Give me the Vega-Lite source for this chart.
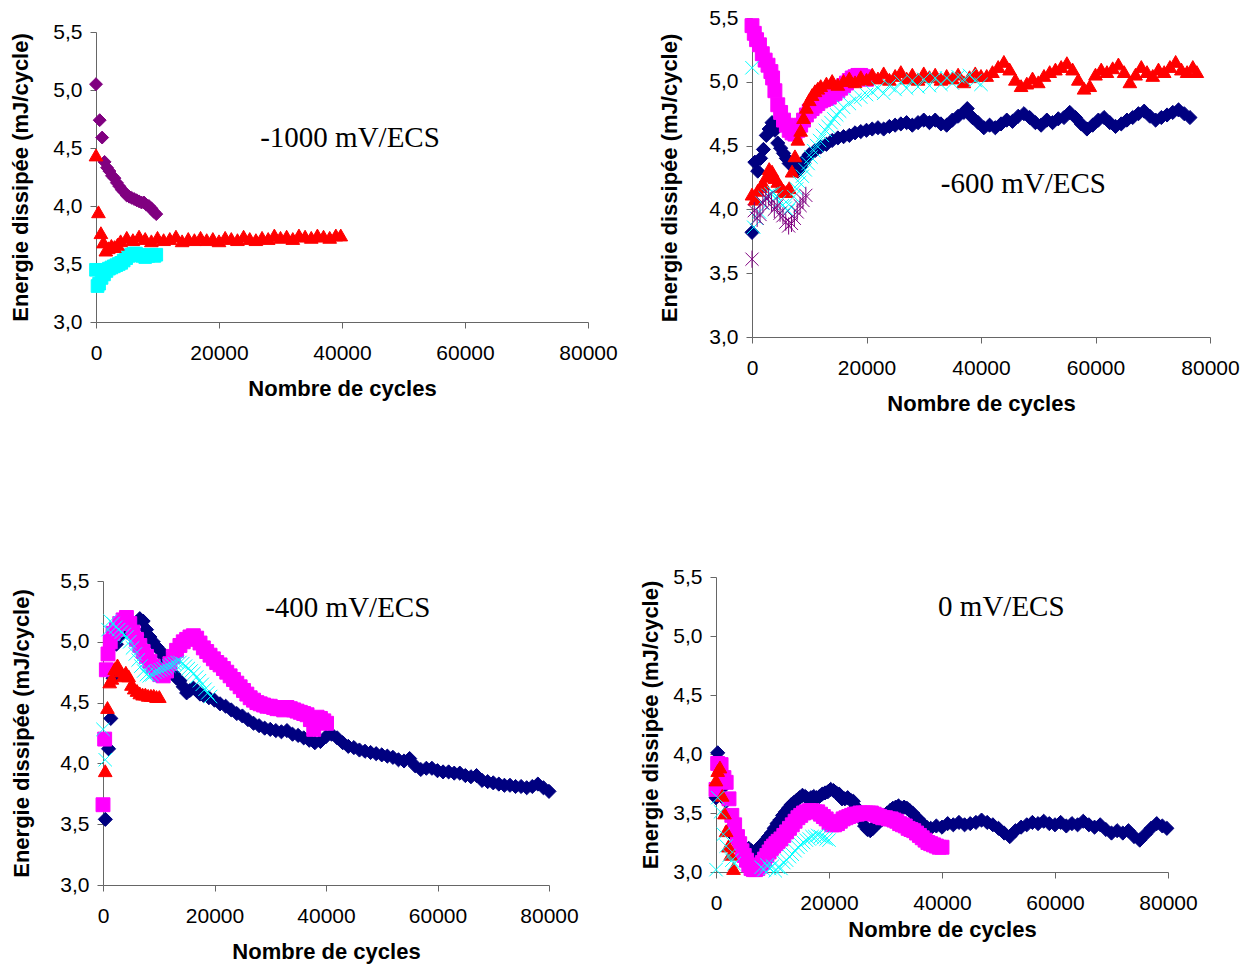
{
  "$schema": "https://vega.github.io/schema/vega-lite/v6.json",
  "background": "white",
  "padding": {"left": 9, "top": 7, "right": 5, "bottom": 5},
  "config": {
    "view": {"stroke": null},
    "axis": {
      "grid": false,
      "labelFont": "Liberation Sans",
      "labelFontSize": 21,
      "labelColor": "black",
      "labelFlush": false,
      "labelOverlap": false,
      "titleFont": "Liberation Sans",
      "titleFontSize": 22,
      "titleFontWeight": "bold",
      "titleColor": "black",
      "domainColor": "#666666",
      "tickColor": "#666666",
      "tickSize": 6
    },
    "axisX": {"labelPadding": 14, "titlePadding": 15},
    "axisY": {"labelPadding": 8, "titlePadding": 20},
    "text": {"font": "Liberation Serif", "fontSize": 29, "align": "center", "baseline": "middle", "color": "black"}
  },
  "datasets": {
    "p1": [
      {"cycles": 0, "energie": 5.05, "serie": "F"}, {"cycles": 600, "energie": 4.74, "serie": "F"}, {"cycles": 1000, "energie": 4.59, "serie": "F"}, {"cycles": 1400, "energie": 4.38, "serie": "F"}, {"cycles": 1800, "energie": 4.33, "serie": "F"}, {"cycles": 2200, "energie": 4.30, "serie": "F"}, {"cycles": 2600, "energie": 4.26, "serie": "F"}, {"cycles": 3000, "energie": 4.24, "serie": "F"}, {"cycles": 3400, "energie": 4.20, "serie": "F"}, {"cycles": 3800, "energie": 4.17, "serie": "F"}, {"cycles": 4200, "energie": 4.14, "serie": "F"}, {"cycles": 4600, "energie": 4.12, "serie": "F"}, {"cycles": 5000, "energie": 4.09, "serie": "F"}, {"cycles": 5400, "energie": 4.08, "serie": "F"}, {"cycles": 5800, "energie": 4.07, "serie": "F"}, {"cycles": 6200, "energie": 4.06, "serie": "F"}, {"cycles": 6600, "energie": 4.05, "serie": "F"}, {"cycles": 7000, "energie": 4.04, "serie": "F"}, {"cycles": 7400, "energie": 4.03, "serie": "F"}, {"cycles": 7800, "energie": 4.03, "serie": "F"}, {"cycles": 8200, "energie": 4.01, "serie": "F"}, {"cycles": 8600, "energie": 4.00, "serie": "F"}, {"cycles": 9000, "energie": 3.98, "serie": "F"}, {"cycles": 9400, "energie": 3.95, "serie": "F"}, {"cycles": 9800, "energie": 3.93, "serie": "F"},
      {"cycles": 0, "energie": 3.45, "serie": "G"}, {"cycles": 250, "energie": 3.31, "serie": "G"}, {"cycles": 500, "energie": 3.33, "serie": "G"}, {"cycles": 900, "energie": 3.38, "serie": "G"}, {"cycles": 1300, "energie": 3.41, "serie": "G"}, {"cycles": 1700, "energie": 3.44, "serie": "G"}, {"cycles": 2100, "energie": 3.46, "serie": "G"}, {"cycles": 2500, "energie": 3.47, "serie": "G"}, {"cycles": 2900, "energie": 3.48, "serie": "G"}, {"cycles": 3300, "energie": 3.49, "serie": "G"}, {"cycles": 3700, "energie": 3.50, "serie": "G"}, {"cycles": 4100, "energie": 3.51, "serie": "G"}, {"cycles": 4500, "energie": 3.53, "serie": "G"}, {"cycles": 4900, "energie": 3.55, "serie": "G"}, {"cycles": 5300, "energie": 3.57, "serie": "G"}, {"cycles": 5700, "energie": 3.58, "serie": "G"}, {"cycles": 6100, "energie": 3.59, "serie": "G"}, {"cycles": 6500, "energie": 3.59, "serie": "G"}, {"cycles": 7000, "energie": 3.58, "serie": "G"}, {"cycles": 7500, "energie": 3.57, "serie": "G"}, {"cycles": 8000, "energie": 3.56, "serie": "G"}, {"cycles": 8500, "energie": 3.57, "serie": "G"}, {"cycles": 9000, "energie": 3.58, "serie": "G"}, {"cycles": 9500, "energie": 3.57, "serie": "G"}, {"cycles": 9800, "energie": 3.58, "serie": "G"},
      {"cycles": 0, "energie": 4.44, "serie": "C"}, {"cycles": 400, "energie": 3.95, "serie": "C"}, {"cycles": 800, "energie": 3.77, "serie": "C"}, {"cycles": 1200, "energie": 3.69, "serie": "C"}, {"cycles": 1600, "energie": 3.62, "serie": "C"}, {"cycles": 2000, "energie": 3.64, "serie": "C"}, {"cycles": 2500, "energie": 3.66, "serie": "C"}, {"cycles": 3000, "energie": 3.65, "serie": "C"}, {"cycles": 3500, "energie": 3.67, "serie": "C"}, {"cycles": 4000, "energie": 3.70, "serie": "C"}, {"cycles": 5000, "energie": 3.73, "serie": "C"}, {"cycles": 6000, "energie": 3.71, "serie": "C"}, {"cycles": 7000, "energie": 3.74, "serie": "C"}, {"cycles": 8000, "energie": 3.72, "serie": "C"}, {"cycles": 9000, "energie": 3.70, "serie": "C"}, {"cycles": 10000, "energie": 3.73, "serie": "C"}, {"cycles": 11000, "energie": 3.71, "serie": "C"}, {"cycles": 12000, "energie": 3.72, "serie": "C"}, {"cycles": 13000, "energie": 3.74, "serie": "C"}, {"cycles": 14000, "energie": 3.70, "serie": "C"}, {"cycles": 15000, "energie": 3.72, "serie": "C"}, {"cycles": 16000, "energie": 3.71, "serie": "C"}, {"cycles": 17000, "energie": 3.73, "serie": "C"}, {"cycles": 18000, "energie": 3.71, "serie": "C"}, {"cycles": 19000, "energie": 3.72, "serie": "C"}, {"cycles": 20000, "energie": 3.70, "serie": "C"}, {"cycles": 21000, "energie": 3.73, "serie": "C"}, {"cycles": 22000, "energie": 3.72, "serie": "C"}, {"cycles": 23000, "energie": 3.71, "serie": "C"}, {"cycles": 24000, "energie": 3.74, "serie": "C"}, {"cycles": 25000, "energie": 3.72, "serie": "C"}, {"cycles": 26000, "energie": 3.71, "serie": "C"}, {"cycles": 27000, "energie": 3.73, "serie": "C"}, {"cycles": 28000, "energie": 3.72, "serie": "C"}, {"cycles": 29000, "energie": 3.75, "serie": "C"}, {"cycles": 30000, "energie": 3.73, "serie": "C"}, {"cycles": 31000, "energie": 3.74, "serie": "C"}, {"cycles": 32000, "energie": 3.72, "serie": "C"}, {"cycles": 33000, "energie": 3.75, "serie": "C"}, {"cycles": 34000, "energie": 3.74, "serie": "C"}, {"cycles": 35000, "energie": 3.73, "serie": "C"}, {"cycles": 36000, "energie": 3.75, "serie": "C"}, {"cycles": 37000, "energie": 3.74, "serie": "C"}, {"cycles": 38000, "energie": 3.73, "serie": "C"}, {"cycles": 39000, "energie": 3.75, "serie": "C"}, {"cycles": 39800, "energie": 3.75, "serie": "C"}
    ],
    "p2": [
      {"cycles": 0, "energie": 3.82, "serie": "A"}, {"cycles": 500, "energie": 4.37, "serie": "A"}, {"cycles": 1000, "energie": 4.30, "serie": "A"}, {"cycles": 1500, "energie": 4.40, "serie": "A"}, {"cycles": 2000, "energie": 4.47, "serie": "A"}, {"cycles": 2500, "energie": 4.58, "serie": "A"}, {"cycles": 3000, "energie": 4.63, "serie": "A"}, {"cycles": 3500, "energie": 4.68, "serie": "A"}, {"cycles": 4000, "energie": 4.62, "serie": "A"}, {"cycles": 4500, "energie": 4.52, "serie": "A"}, {"cycles": 5000, "energie": 4.48, "serie": "A"}, {"cycles": 5500, "energie": 4.44, "serie": "A"}, {"cycles": 6000, "energie": 4.40, "serie": "A"}, {"cycles": 6500, "energie": 4.36, "serie": "A"}, {"cycles": 7000, "energie": 4.35, "serie": "A"}, {"cycles": 7500, "energie": 4.32, "serie": "A"}, {"cycles": 8000, "energie": 4.30, "serie": "A"}, {"cycles": 8500, "energie": 4.33, "serie": "A"}, {"cycles": 9000, "energie": 4.37, "serie": "A"}, {"cycles": 9500, "energie": 4.40, "serie": "A"}, {"cycles": 10000, "energie": 4.43, "serie": "A"}, {"cycles": 11000, "energie": 4.46, "serie": "A"}, {"cycles": 12000, "energie": 4.49, "serie": "A"}, {"cycles": 13000, "energie": 4.51, "serie": "A"}, {"cycles": 14000, "energie": 4.54, "serie": "A"}, {"cycles": 15000, "energie": 4.56, "serie": "A"}, {"cycles": 16000, "energie": 4.57, "serie": "A"}, {"cycles": 17000, "energie": 4.58, "serie": "A"}, {"cycles": 18000, "energie": 4.60, "serie": "A"}, {"cycles": 19000, "energie": 4.61, "serie": "A"}, {"cycles": 20000, "energie": 4.62, "serie": "A"}, {"cycles": 21000, "energie": 4.63, "serie": "A"}, {"cycles": 22000, "energie": 4.64, "serie": "A"}, {"cycles": 23000, "energie": 4.63, "serie": "A"}, {"cycles": 24000, "energie": 4.65, "serie": "A"}, {"cycles": 25000, "energie": 4.66, "serie": "A"}, {"cycles": 26000, "energie": 4.67, "serie": "A"}, {"cycles": 27000, "energie": 4.68, "serie": "A"}, {"cycles": 28000, "energie": 4.66, "serie": "A"}, {"cycles": 29000, "energie": 4.68, "serie": "A"}, {"cycles": 30000, "energie": 4.70, "serie": "A"}, {"cycles": 31000, "energie": 4.68, "serie": "A"}, {"cycles": 32000, "energie": 4.70, "serie": "A"}, {"cycles": 33000, "energie": 4.67, "serie": "A"}, {"cycles": 34000, "energie": 4.66, "serie": "A"}, {"cycles": 35000, "energie": 4.70, "serie": "A"}, {"cycles": 36000, "energie": 4.73, "serie": "A"}, {"cycles": 37000, "energie": 4.76, "serie": "A"}, {"cycles": 37600, "energie": 4.79, "serie": "A"}, {"cycles": 38500, "energie": 4.72, "serie": "A"}, {"cycles": 39500, "energie": 4.68, "serie": "A"}, {"cycles": 40500, "energie": 4.64, "serie": "A"}, {"cycles": 41500, "energie": 4.66, "serie": "A"}, {"cycles": 42500, "energie": 4.64, "serie": "A"}, {"cycles": 43500, "energie": 4.67, "serie": "A"}, {"cycles": 44500, "energie": 4.70, "serie": "A"}, {"cycles": 45500, "energie": 4.69, "serie": "A"}, {"cycles": 46500, "energie": 4.73, "serie": "A"}, {"cycles": 47500, "energie": 4.75, "serie": "A"}, {"cycles": 48500, "energie": 4.72, "serie": "A"}, {"cycles": 49500, "energie": 4.68, "serie": "A"}, {"cycles": 50500, "energie": 4.66, "serie": "A"}, {"cycles": 51500, "energie": 4.70, "serie": "A"}, {"cycles": 52500, "energie": 4.68, "serie": "A"}, {"cycles": 53500, "energie": 4.71, "serie": "A"}, {"cycles": 54500, "energie": 4.72, "serie": "A"}, {"cycles": 55500, "energie": 4.76, "serie": "A"}, {"cycles": 56500, "energie": 4.72, "serie": "A"}, {"cycles": 57500, "energie": 4.67, "serie": "A"}, {"cycles": 58500, "energie": 4.63, "serie": "A"}, {"cycles": 59500, "energie": 4.66, "serie": "A"}, {"cycles": 60500, "energie": 4.70, "serie": "A"}, {"cycles": 61500, "energie": 4.72, "serie": "A"}, {"cycles": 62500, "energie": 4.68, "serie": "A"}, {"cycles": 63500, "energie": 4.65, "serie": "A"}, {"cycles": 64500, "energie": 4.67, "serie": "A"}, {"cycles": 65500, "energie": 4.70, "serie": "A"}, {"cycles": 66500, "energie": 4.72, "serie": "A"}, {"cycles": 67500, "energie": 4.75, "serie": "A"}, {"cycles": 68500, "energie": 4.77, "serie": "A"}, {"cycles": 69500, "energie": 4.73, "serie": "A"}, {"cycles": 70500, "energie": 4.70, "serie": "A"}, {"cycles": 71500, "energie": 4.72, "serie": "A"}, {"cycles": 72500, "energie": 4.74, "serie": "A"}, {"cycles": 73500, "energie": 4.76, "serie": "A"}, {"cycles": 74500, "energie": 4.78, "serie": "A"}, {"cycles": 75500, "energie": 4.75, "serie": "A"}, {"cycles": 76500, "energie": 4.72, "serie": "A"},
      {"cycles": 0, "energie": 5.44, "serie": "B"}, {"cycles": 400, "energie": 5.38, "serie": "B"}, {"cycles": 800, "energie": 5.33, "serie": "B"}, {"cycles": 1300, "energie": 5.29, "serie": "B"}, {"cycles": 1800, "energie": 5.22, "serie": "B"}, {"cycles": 2300, "energie": 5.17, "serie": "B"}, {"cycles": 2800, "energie": 5.13, "serie": "B"}, {"cycles": 3300, "energie": 5.08, "serie": "B"}, {"cycles": 3600, "energie": 5.03, "serie": "B"}, {"cycles": 4000, "energie": 4.93, "serie": "B"}, {"cycles": 4500, "energie": 4.82, "serie": "B"}, {"cycles": 5000, "energie": 4.76, "serie": "B"}, {"cycles": 5500, "energie": 4.70, "serie": "B"}, {"cycles": 6000, "energie": 4.66, "serie": "B"}, {"cycles": 6500, "energie": 4.62, "serie": "B"}, {"cycles": 7000, "energie": 4.60, "serie": "B"}, {"cycles": 7500, "energie": 4.59, "serie": "B"}, {"cycles": 8000, "energie": 4.62, "serie": "B"}, {"cycles": 8500, "energie": 4.66, "serie": "B"}, {"cycles": 9000, "energie": 4.70, "serie": "B"}, {"cycles": 9500, "energie": 4.74, "serie": "B"}, {"cycles": 10000, "energie": 4.77, "serie": "B"}, {"cycles": 10500, "energie": 4.79, "serie": "B"}, {"cycles": 11000, "energie": 4.81, "serie": "B"}, {"cycles": 11500, "energie": 4.83, "serie": "B"}, {"cycles": 12000, "energie": 4.85, "serie": "B"}, {"cycles": 12500, "energie": 4.86, "serie": "B"}, {"cycles": 13000, "energie": 4.87, "serie": "B"}, {"cycles": 13500, "energie": 4.88, "serie": "B"}, {"cycles": 14000, "energie": 4.90, "serie": "B"}, {"cycles": 14500, "energie": 4.91, "serie": "B"}, {"cycles": 15000, "energie": 4.93, "serie": "B"}, {"cycles": 15500, "energie": 4.95, "serie": "B"}, {"cycles": 16000, "energie": 4.97, "serie": "B"}, {"cycles": 16500, "energie": 4.99, "serie": "B"}, {"cycles": 17000, "energie": 5.01, "serie": "B"}, {"cycles": 17500, "energie": 5.03, "serie": "B"}, {"cycles": 18000, "energie": 5.04, "serie": "B"}, {"cycles": 18500, "energie": 5.05, "serie": "B"}, {"cycles": 19000, "energie": 5.05, "serie": "B"}, {"cycles": 19500, "energie": 5.04, "serie": "B"}, {"cycles": 20000, "energie": 5.02, "serie": "B"},
      {"cycles": 0, "energie": 4.12, "serie": "C"}, {"cycles": 500, "energie": 4.08, "serie": "C"}, {"cycles": 1000, "energie": 4.15, "serie": "C"}, {"cycles": 1500, "energie": 4.18, "serie": "C"}, {"cycles": 2000, "energie": 4.20, "serie": "C"}, {"cycles": 2500, "energie": 4.26, "serie": "C"}, {"cycles": 3000, "energie": 4.32, "serie": "C"}, {"cycles": 3500, "energie": 4.30, "serie": "C"}, {"cycles": 4000, "energie": 4.25, "serie": "C"}, {"cycles": 4500, "energie": 4.22, "serie": "C"}, {"cycles": 5000, "energie": 4.18, "serie": "C"}, {"cycles": 5500, "energie": 4.15, "serie": "C"}, {"cycles": 6000, "energie": 4.14, "serie": "C"}, {"cycles": 6500, "energie": 4.17, "serie": "C"}, {"cycles": 7000, "energie": 4.30, "serie": "C"}, {"cycles": 7500, "energie": 4.42, "serie": "C"}, {"cycles": 8000, "energie": 4.55, "serie": "C"}, {"cycles": 8500, "energie": 4.62, "serie": "C"}, {"cycles": 9000, "energie": 4.72, "serie": "C"}, {"cycles": 9500, "energie": 4.80, "serie": "C"}, {"cycles": 10000, "energie": 4.86, "serie": "C"}, {"cycles": 10500, "energie": 4.90, "serie": "C"}, {"cycles": 11000, "energie": 4.93, "serie": "C"}, {"cycles": 11500, "energie": 4.95, "serie": "C"}, {"cycles": 12000, "energie": 4.97, "serie": "C"}, {"cycles": 13000, "energie": 4.99, "serie": "C"}, {"cycles": 14000, "energie": 5.01, "serie": "C"}, {"cycles": 15000, "energie": 4.98, "serie": "C"}, {"cycles": 16000, "energie": 5.01, "serie": "C"}, {"cycles": 17000, "energie": 5.03, "serie": "C"}, {"cycles": 18000, "energie": 5.00, "serie": "C"}, {"cycles": 19000, "energie": 5.04, "serie": "C"}, {"cycles": 20000, "energie": 5.02, "serie": "C"}, {"cycles": 21000, "energie": 5.06, "serie": "C"}, {"cycles": 22000, "energie": 5.03, "serie": "C"}, {"cycles": 23000, "energie": 5.07, "serie": "C"}, {"cycles": 24000, "energie": 5.02, "serie": "C"}, {"cycles": 25000, "energie": 5.05, "serie": "C"}, {"cycles": 26000, "energie": 5.08, "serie": "C"}, {"cycles": 27000, "energie": 5.03, "serie": "C"}, {"cycles": 28000, "energie": 5.06, "serie": "C"}, {"cycles": 29000, "energie": 5.02, "serie": "C"}, {"cycles": 30000, "energie": 5.07, "serie": "C"}, {"cycles": 31000, "energie": 5.04, "serie": "C"}, {"cycles": 32000, "energie": 5.06, "serie": "C"}, {"cycles": 33000, "energie": 5.02, "serie": "C"}, {"cycles": 34000, "energie": 5.05, "serie": "C"}, {"cycles": 35000, "energie": 5.03, "serie": "C"}, {"cycles": 36000, "energie": 5.06, "serie": "C"}, {"cycles": 37000, "energie": 5.00, "serie": "C"}, {"cycles": 38000, "energie": 5.04, "serie": "C"}, {"cycles": 39000, "energie": 5.07, "serie": "C"}, {"cycles": 40000, "energie": 5.05, "serie": "C"}, {"cycles": 41000, "energie": 5.05, "serie": "C"}, {"cycles": 42000, "energie": 5.08, "serie": "C"}, {"cycles": 43000, "energie": 5.12, "serie": "C"}, {"cycles": 44000, "energie": 5.16, "serie": "C"}, {"cycles": 45000, "energie": 5.10, "serie": "C"}, {"cycles": 46000, "energie": 5.02, "serie": "C"}, {"cycles": 47000, "energie": 4.97, "serie": "C"}, {"cycles": 48000, "energie": 4.99, "serie": "C"}, {"cycles": 49000, "energie": 5.03, "serie": "C"}, {"cycles": 50000, "energie": 5.00, "serie": "C"}, {"cycles": 51000, "energie": 5.05, "serie": "C"}, {"cycles": 52000, "energie": 5.08, "serie": "C"}, {"cycles": 53000, "energie": 5.10, "serie": "C"}, {"cycles": 54000, "energie": 5.12, "serie": "C"}, {"cycles": 55000, "energie": 5.15, "serie": "C"}, {"cycles": 56000, "energie": 5.10, "serie": "C"}, {"cycles": 57000, "energie": 5.02, "serie": "C"}, {"cycles": 58000, "energie": 4.95, "serie": "C"}, {"cycles": 59000, "energie": 4.97, "serie": "C"}, {"cycles": 60000, "energie": 5.06, "serie": "C"}, {"cycles": 61000, "energie": 5.10, "serie": "C"}, {"cycles": 62000, "energie": 5.08, "serie": "C"}, {"cycles": 63000, "energie": 5.11, "serie": "C"}, {"cycles": 64000, "energie": 5.14, "serie": "C"}, {"cycles": 65000, "energie": 5.08, "serie": "C"}, {"cycles": 66000, "energie": 5.00, "serie": "C"}, {"cycles": 67000, "energie": 5.06, "serie": "C"}, {"cycles": 68000, "energie": 5.12, "serie": "C"}, {"cycles": 69000, "energie": 5.08, "serie": "C"}, {"cycles": 70000, "energie": 5.05, "serie": "C"}, {"cycles": 71000, "energie": 5.10, "serie": "C"}, {"cycles": 72000, "energie": 5.08, "serie": "C"}, {"cycles": 73000, "energie": 5.12, "serie": "C"}, {"cycles": 74000, "energie": 5.16, "serie": "C"}, {"cycles": 75000, "energie": 5.10, "serie": "C"}, {"cycles": 76000, "energie": 5.08, "serie": "C"}, {"cycles": 77000, "energie": 5.12, "serie": "C"}, {"cycles": 77700, "energie": 5.08, "serie": "C"},
      {"cycles": 0, "energie": 5.11, "serie": "D"}, {"cycles": 300, "energie": 3.86, "serie": "D"}, {"cycles": 800, "energie": 3.93, "serie": "D"}, {"cycles": 1300, "energie": 3.98, "serie": "D"}, {"cycles": 1800, "energie": 4.05, "serie": "D"}, {"cycles": 2300, "energie": 4.09, "serie": "D"}, {"cycles": 2800, "energie": 4.11, "serie": "D"}, {"cycles": 3300, "energie": 4.12, "serie": "D"}, {"cycles": 3800, "energie": 4.13, "serie": "D"}, {"cycles": 4300, "energie": 4.10, "serie": "D"}, {"cycles": 4800, "energie": 4.06, "serie": "D"}, {"cycles": 5300, "energie": 4.03, "serie": "D"}, {"cycles": 5800, "energie": 4.01, "serie": "D"}, {"cycles": 6300, "energie": 3.99, "serie": "D"}, {"cycles": 6800, "energie": 4.02, "serie": "D"}, {"cycles": 7300, "energie": 4.10, "serie": "D"}, {"cycles": 7800, "energie": 4.16, "serie": "D"}, {"cycles": 8300, "energie": 4.21, "serie": "D"}, {"cycles": 8800, "energie": 4.26, "serie": "D"}, {"cycles": 9300, "energie": 4.31, "serie": "D"}, {"cycles": 9800, "energie": 4.36, "serie": "D"}, {"cycles": 10300, "energie": 4.41, "serie": "D"}, {"cycles": 10800, "energie": 4.46, "serie": "D"}, {"cycles": 11300, "energie": 4.50, "serie": "D"}, {"cycles": 11800, "energie": 4.54, "serie": "D"}, {"cycles": 12300, "energie": 4.58, "serie": "D"}, {"cycles": 12800, "energie": 4.62, "serie": "D"}, {"cycles": 13300, "energie": 4.65, "serie": "D"}, {"cycles": 13800, "energie": 4.68, "serie": "D"}, {"cycles": 14300, "energie": 4.71, "serie": "D"}, {"cycles": 14800, "energie": 4.74, "serie": "D"}, {"cycles": 15300, "energie": 4.77, "serie": "D"}, {"cycles": 16000, "energie": 4.80, "serie": "D"}, {"cycles": 17000, "energie": 4.83, "serie": "D"}, {"cycles": 18000, "energie": 4.86, "serie": "D"}, {"cycles": 19000, "energie": 4.88, "serie": "D"}, {"cycles": 20000, "energie": 4.90, "serie": "D"}, {"cycles": 21000, "energie": 4.92, "serie": "D"}, {"cycles": 22000, "energie": 4.95, "serie": "D"}, {"cycles": 23000, "energie": 4.91, "serie": "D"}, {"cycles": 24000, "energie": 4.97, "serie": "D"}, {"cycles": 25000, "energie": 4.94, "serie": "D"}, {"cycles": 26000, "energie": 5.00, "serie": "D"}, {"cycles": 27000, "energie": 4.95, "serie": "D"}, {"cycles": 28000, "energie": 5.01, "serie": "D"}, {"cycles": 29000, "energie": 4.96, "serie": "D"}, {"cycles": 30000, "energie": 5.02, "serie": "D"}, {"cycles": 31000, "energie": 4.97, "serie": "D"}, {"cycles": 32000, "energie": 5.03, "serie": "D"}, {"cycles": 33000, "energie": 4.98, "serie": "D"}, {"cycles": 34000, "energie": 5.03, "serie": "D"}, {"cycles": 35000, "energie": 4.99, "serie": "D"}, {"cycles": 36000, "energie": 5.04, "serie": "D"}, {"cycles": 37000, "energie": 5.02, "serie": "D"}, {"cycles": 38000, "energie": 5.05, "serie": "D"}, {"cycles": 39000, "energie": 5.01, "serie": "D"}, {"cycles": 40000, "energie": 4.98, "serie": "D"},
      {"cycles": 0, "energie": 3.61, "serie": "E"}, {"cycles": 400, "energie": 3.99, "serie": "E"}, {"cycles": 900, "energie": 3.93, "serie": "E"}, {"cycles": 1400, "energie": 3.96, "serie": "E"}, {"cycles": 1900, "energie": 4.05, "serie": "E"}, {"cycles": 2400, "energie": 4.09, "serie": "E"}, {"cycles": 2900, "energie": 4.10, "serie": "E"}, {"cycles": 3400, "energie": 4.05, "serie": "E"}, {"cycles": 3900, "energie": 4.00, "serie": "E"}, {"cycles": 4400, "energie": 4.03, "serie": "E"}, {"cycles": 4900, "energie": 3.97, "serie": "E"}, {"cycles": 5400, "energie": 3.95, "serie": "E"}, {"cycles": 5900, "energie": 3.90, "serie": "E"}, {"cycles": 6400, "energie": 3.87, "serie": "E"}, {"cycles": 6900, "energie": 3.89, "serie": "E"}, {"cycles": 7400, "energie": 3.93, "serie": "E"}, {"cycles": 7900, "energie": 3.98, "serie": "E"}, {"cycles": 8400, "energie": 4.03, "serie": "E"}, {"cycles": 8900, "energie": 4.07, "serie": "E"}, {"cycles": 9400, "energie": 4.11, "serie": "E"}
    ],
    "p3": [
      {"cycles": 420, "energie": 3.54, "serie": "A"}, {"cycles": 1000, "energie": 4.12, "serie": "A"}, {"cycles": 1400, "energie": 4.37, "serie": "A"}, {"cycles": 1800, "energie": 4.70, "serie": "A"}, {"cycles": 2400, "energie": 4.98, "serie": "A"}, {"cycles": 3000, "energie": 5.05, "serie": "A"}, {"cycles": 3600, "energie": 5.08, "serie": "A"}, {"cycles": 4200, "energie": 5.10, "serie": "A"}, {"cycles": 4800, "energie": 5.12, "serie": "A"}, {"cycles": 5400, "energie": 5.14, "serie": "A"}, {"cycles": 6000, "energie": 5.16, "serie": "A"}, {"cycles": 6600, "energie": 5.19, "serie": "A"}, {"cycles": 7200, "energie": 5.17, "serie": "A"}, {"cycles": 7800, "energie": 5.10, "serie": "A"}, {"cycles": 8400, "energie": 5.04, "serie": "A"}, {"cycles": 9000, "energie": 5.00, "serie": "A"}, {"cycles": 9600, "energie": 4.96, "serie": "A"}, {"cycles": 10200, "energie": 4.93, "serie": "A"}, {"cycles": 10800, "energie": 4.88, "serie": "A"}, {"cycles": 11400, "energie": 4.83, "serie": "A"}, {"cycles": 12000, "energie": 4.78, "serie": "A"}, {"cycles": 12600, "energie": 4.74, "serie": "A"}, {"cycles": 13200, "energie": 4.70, "serie": "A"}, {"cycles": 13800, "energie": 4.68, "serie": "A"}, {"cycles": 14400, "energie": 4.63, "serie": "A"}, {"cycles": 15000, "energie": 4.58, "serie": "A"}, {"cycles": 15600, "energie": 4.60, "serie": "A"}, {"cycles": 16200, "energie": 4.62, "serie": "A"}, {"cycles": 16800, "energie": 4.60, "serie": "A"}, {"cycles": 17400, "energie": 4.57, "serie": "A"}, {"cycles": 18000, "energie": 4.56, "serie": "A"}, {"cycles": 19000, "energie": 4.54, "serie": "A"}, {"cycles": 20000, "energie": 4.52, "serie": "A"}, {"cycles": 21000, "energie": 4.49, "serie": "A"}, {"cycles": 22000, "energie": 4.47, "serie": "A"}, {"cycles": 23000, "energie": 4.44, "serie": "A"}, {"cycles": 24000, "energie": 4.41, "serie": "A"}, {"cycles": 25000, "energie": 4.39, "serie": "A"}, {"cycles": 26000, "energie": 4.36, "serie": "A"}, {"cycles": 27000, "energie": 4.33, "serie": "A"}, {"cycles": 28000, "energie": 4.31, "serie": "A"}, {"cycles": 29000, "energie": 4.29, "serie": "A"}, {"cycles": 30000, "energie": 4.28, "serie": "A"}, {"cycles": 31000, "energie": 4.27, "serie": "A"}, {"cycles": 32000, "energie": 4.26, "serie": "A"}, {"cycles": 33000, "energie": 4.27, "serie": "A"}, {"cycles": 34000, "energie": 4.24, "serie": "A"}, {"cycles": 35000, "energie": 4.23, "serie": "A"}, {"cycles": 36000, "energie": 4.21, "serie": "A"}, {"cycles": 37000, "energie": 4.19, "serie": "A"}, {"cycles": 38000, "energie": 4.17, "serie": "A"}, {"cycles": 39000, "energie": 4.18, "serie": "A"}, {"cycles": 40000, "energie": 4.22, "serie": "A"}, {"cycles": 41000, "energie": 4.24, "serie": "A"}, {"cycles": 42000, "energie": 4.21, "serie": "A"}, {"cycles": 43000, "energie": 4.17, "serie": "A"}, {"cycles": 44000, "energie": 4.14, "serie": "A"}, {"cycles": 45000, "energie": 4.13, "serie": "A"}, {"cycles": 46000, "energie": 4.11, "serie": "A"}, {"cycles": 47000, "energie": 4.10, "serie": "A"}, {"cycles": 48000, "energie": 4.09, "serie": "A"}, {"cycles": 49000, "energie": 4.08, "serie": "A"}, {"cycles": 50000, "energie": 4.07, "serie": "A"}, {"cycles": 51000, "energie": 4.06, "serie": "A"}, {"cycles": 52000, "energie": 4.05, "serie": "A"}, {"cycles": 53000, "energie": 4.03, "serie": "A"}, {"cycles": 54000, "energie": 4.02, "serie": "A"}, {"cycles": 55000, "energie": 4.04, "serie": "A"}, {"cycles": 56000, "energie": 3.98, "serie": "A"}, {"cycles": 57000, "energie": 3.95, "serie": "A"}, {"cycles": 58000, "energie": 3.96, "serie": "A"}, {"cycles": 59000, "energie": 3.96, "serie": "A"}, {"cycles": 60000, "energie": 3.94, "serie": "A"}, {"cycles": 61000, "energie": 3.93, "serie": "A"}, {"cycles": 62000, "energie": 3.93, "serie": "A"}, {"cycles": 63000, "energie": 3.92, "serie": "A"}, {"cycles": 64000, "energie": 3.92, "serie": "A"}, {"cycles": 65000, "energie": 3.90, "serie": "A"}, {"cycles": 66000, "energie": 3.89, "serie": "A"}, {"cycles": 67000, "energie": 3.90, "serie": "A"}, {"cycles": 68000, "energie": 3.86, "serie": "A"}, {"cycles": 69000, "energie": 3.85, "serie": "A"}, {"cycles": 70000, "energie": 3.84, "serie": "A"}, {"cycles": 71000, "energie": 3.83, "serie": "A"}, {"cycles": 72000, "energie": 3.82, "serie": "A"}, {"cycles": 73000, "energie": 3.82, "serie": "A"}, {"cycles": 74000, "energie": 3.81, "serie": "A"}, {"cycles": 75000, "energie": 3.81, "serie": "A"}, {"cycles": 76000, "energie": 3.80, "serie": "A"}, {"cycles": 77000, "energie": 3.81, "serie": "A"}, {"cycles": 78000, "energie": 3.83, "serie": "A"}, {"cycles": 79000, "energie": 3.80, "serie": "A"}, {"cycles": 80000, "energie": 3.77, "serie": "A"},
      {"cycles": 0, "energie": 3.66, "serie": "B"}, {"cycles": 300, "energie": 4.20, "serie": "B"}, {"cycles": 600, "energie": 4.77, "serie": "B"}, {"cycles": 900, "energie": 4.90, "serie": "B"}, {"cycles": 1300, "energie": 5.00, "serie": "B"}, {"cycles": 1800, "energie": 5.07, "serie": "B"}, {"cycles": 2400, "energie": 5.10, "serie": "B"}, {"cycles": 3000, "energie": 5.15, "serie": "B"}, {"cycles": 3600, "energie": 5.18, "serie": "B"}, {"cycles": 4200, "energie": 5.20, "serie": "B"}, {"cycles": 4800, "energie": 5.15, "serie": "B"}, {"cycles": 5400, "energie": 5.08, "serie": "B"}, {"cycles": 6000, "energie": 5.02, "serie": "B"}, {"cycles": 6600, "energie": 4.97, "serie": "B"}, {"cycles": 7200, "energie": 4.92, "serie": "B"}, {"cycles": 7800, "energie": 4.88, "serie": "B"}, {"cycles": 8400, "energie": 4.84, "serie": "B"}, {"cycles": 9000, "energie": 4.80, "serie": "B"}, {"cycles": 9600, "energie": 4.76, "serie": "B"}, {"cycles": 10200, "energie": 4.73, "serie": "B"}, {"cycles": 10800, "energie": 4.72, "serie": "B"}, {"cycles": 11400, "energie": 4.76, "serie": "B"}, {"cycles": 12000, "energie": 4.82, "serie": "B"}, {"cycles": 12600, "energie": 4.88, "serie": "B"}, {"cycles": 13200, "energie": 4.93, "serie": "B"}, {"cycles": 13800, "energie": 4.97, "serie": "B"}, {"cycles": 14400, "energie": 5.00, "serie": "B"}, {"cycles": 15000, "energie": 5.02, "serie": "B"}, {"cycles": 15600, "energie": 5.04, "serie": "B"}, {"cycles": 16200, "energie": 5.05, "serie": "B"}, {"cycles": 16800, "energie": 5.03, "serie": "B"}, {"cycles": 17400, "energie": 4.99, "serie": "B"}, {"cycles": 18000, "energie": 4.95, "serie": "B"}, {"cycles": 18600, "energie": 4.92, "serie": "B"}, {"cycles": 19200, "energie": 4.89, "serie": "B"}, {"cycles": 19800, "energie": 4.86, "serie": "B"}, {"cycles": 20400, "energie": 4.83, "serie": "B"}, {"cycles": 21000, "energie": 4.81, "serie": "B"}, {"cycles": 21600, "energie": 4.78, "serie": "B"}, {"cycles": 22200, "energie": 4.75, "serie": "B"}, {"cycles": 22800, "energie": 4.72, "serie": "B"}, {"cycles": 23400, "energie": 4.69, "serie": "B"}, {"cycles": 24000, "energie": 4.66, "serie": "B"}, {"cycles": 24600, "energie": 4.63, "serie": "B"}, {"cycles": 25200, "energie": 4.60, "serie": "B"}, {"cycles": 25800, "energie": 4.57, "serie": "B"}, {"cycles": 26400, "energie": 4.54, "serie": "B"}, {"cycles": 27000, "energie": 4.52, "serie": "B"}, {"cycles": 27600, "energie": 4.50, "serie": "B"}, {"cycles": 28200, "energie": 4.49, "serie": "B"}, {"cycles": 28800, "energie": 4.48, "serie": "B"}, {"cycles": 29400, "energie": 4.47, "serie": "B"}, {"cycles": 30000, "energie": 4.47, "serie": "B"}, {"cycles": 30600, "energie": 4.46, "serie": "B"}, {"cycles": 31200, "energie": 4.45, "serie": "B"}, {"cycles": 31800, "energie": 4.45, "serie": "B"}, {"cycles": 32400, "energie": 4.44, "serie": "B"}, {"cycles": 33000, "energie": 4.46, "serie": "B"}, {"cycles": 33600, "energie": 4.45, "serie": "B"}, {"cycles": 34200, "energie": 4.44, "serie": "B"}, {"cycles": 34800, "energie": 4.43, "serie": "B"}, {"cycles": 35400, "energie": 4.42, "serie": "B"}, {"cycles": 36000, "energie": 4.41, "serie": "B"}, {"cycles": 36600, "energie": 4.40, "serie": "B"}, {"cycles": 37200, "energie": 4.36, "serie": "B"}, {"cycles": 37800, "energie": 4.28, "serie": "B"}, {"cycles": 38400, "energie": 4.38, "serie": "B"}, {"cycles": 39000, "energie": 4.37, "serie": "B"}, {"cycles": 39600, "energie": 4.35, "serie": "B"}, {"cycles": 40100, "energie": 4.33, "serie": "B"},
      {"cycles": 400, "energie": 3.94, "serie": "C"}, {"cycles": 800, "energie": 4.46, "serie": "C"}, {"cycles": 1200, "energie": 4.67, "serie": "C"}, {"cycles": 1600, "energie": 4.70, "serie": "C"}, {"cycles": 2100, "energie": 4.78, "serie": "C"}, {"cycles": 2600, "energie": 4.81, "serie": "C"}, {"cycles": 3100, "energie": 4.76, "serie": "C"}, {"cycles": 3600, "energie": 4.72, "serie": "C"}, {"cycles": 4100, "energie": 4.75, "serie": "C"}, {"cycles": 4600, "energie": 4.72, "serie": "C"}, {"cycles": 5100, "energie": 4.65, "serie": "C"}, {"cycles": 5600, "energie": 4.62, "serie": "C"}, {"cycles": 6100, "energie": 4.60, "serie": "C"}, {"cycles": 6600, "energie": 4.58, "serie": "C"}, {"cycles": 7100, "energie": 4.57, "serie": "C"}, {"cycles": 7600, "energie": 4.57, "serie": "C"}, {"cycles": 8100, "energie": 4.56, "serie": "C"}, {"cycles": 8600, "energie": 4.56, "serie": "C"}, {"cycles": 9100, "energie": 4.56, "serie": "C"}, {"cycles": 9600, "energie": 4.55, "serie": "C"}, {"cycles": 10100, "energie": 4.55, "serie": "C"},
      {"cycles": 0, "energie": 4.28, "serie": "D"}, {"cycles": 400, "energie": 4.03, "serie": "D"}, {"cycles": 900, "energie": 5.10, "serie": "D"}, {"cycles": 1300, "energie": 5.17, "serie": "D"}, {"cycles": 1800, "energie": 5.15, "serie": "D"}, {"cycles": 2300, "energie": 5.12, "serie": "D"}, {"cycles": 2800, "energie": 5.10, "serie": "D"}, {"cycles": 3300, "energie": 5.08, "serie": "D"}, {"cycles": 3800, "energie": 5.06, "serie": "D"}, {"cycles": 4300, "energie": 5.04, "serie": "D"}, {"cycles": 4800, "energie": 5.00, "serie": "D"}, {"cycles": 5300, "energie": 4.95, "serie": "D"}, {"cycles": 5800, "energie": 4.90, "serie": "D"}, {"cycles": 6300, "energie": 4.85, "serie": "D"}, {"cycles": 6800, "energie": 4.80, "serie": "D"}, {"cycles": 7300, "energie": 4.76, "serie": "D"}, {"cycles": 7800, "energie": 4.73, "serie": "D"}, {"cycles": 8300, "energie": 4.72, "serie": "D"}, {"cycles": 8800, "energie": 4.73, "serie": "D"}, {"cycles": 9300, "energie": 4.75, "serie": "D"}, {"cycles": 9800, "energie": 4.76, "serie": "D"}, {"cycles": 10300, "energie": 4.77, "serie": "D"}, {"cycles": 10800, "energie": 4.78, "serie": "D"}, {"cycles": 11300, "energie": 4.79, "serie": "D"}, {"cycles": 11800, "energie": 4.80, "serie": "D"}, {"cycles": 12300, "energie": 4.81, "serie": "D"}, {"cycles": 12800, "energie": 4.82, "serie": "D"}, {"cycles": 13300, "energie": 4.83, "serie": "D"}, {"cycles": 13800, "energie": 4.83, "serie": "D"}, {"cycles": 14300, "energie": 4.82, "serie": "D"}, {"cycles": 14800, "energie": 4.80, "serie": "D"}, {"cycles": 15300, "energie": 4.78, "serie": "D"}, {"cycles": 15800, "energie": 4.76, "serie": "D"}, {"cycles": 16300, "energie": 4.74, "serie": "D"}, {"cycles": 16800, "energie": 4.71, "serie": "D"}, {"cycles": 17300, "energie": 4.68, "serie": "D"}, {"cycles": 17800, "energie": 4.65, "serie": "D"}, {"cycles": 18300, "energie": 4.61, "serie": "D"}, {"cycles": 18800, "energie": 4.58, "serie": "D"}, {"cycles": 19300, "energie": 4.55, "serie": "D"}
    ],
    "p4": [
      {"cycles": 0, "energie": 3.63, "serie": "A"}, {"cycles": 300, "energie": 4.01, "serie": "A"}, {"cycles": 800, "energie": 3.85, "serie": "A"}, {"cycles": 1300, "energie": 3.72, "serie": "A"}, {"cycles": 1800, "energie": 3.60, "serie": "A"}, {"cycles": 2300, "energie": 3.48, "serie": "A"}, {"cycles": 2800, "energie": 3.38, "serie": "A"}, {"cycles": 3300, "energie": 3.30, "serie": "A"}, {"cycles": 3800, "energie": 3.25, "serie": "A"}, {"cycles": 4300, "energie": 3.22, "serie": "A"}, {"cycles": 4800, "energie": 3.20, "serie": "A"}, {"cycles": 5300, "energie": 3.19, "serie": "A"}, {"cycles": 5800, "energie": 3.20, "serie": "A"}, {"cycles": 6300, "energie": 3.18, "serie": "A"}, {"cycles": 6800, "energie": 3.17, "serie": "A"}, {"cycles": 7300, "energie": 3.19, "serie": "A"}, {"cycles": 7800, "energie": 3.22, "serie": "A"}, {"cycles": 8300, "energie": 3.24, "serie": "A"}, {"cycles": 8800, "energie": 3.27, "serie": "A"}, {"cycles": 9300, "energie": 3.30, "serie": "A"}, {"cycles": 9800, "energie": 3.33, "serie": "A"}, {"cycles": 10300, "energie": 3.37, "serie": "A"}, {"cycles": 10800, "energie": 3.41, "serie": "A"}, {"cycles": 11300, "energie": 3.44, "serie": "A"}, {"cycles": 11800, "energie": 3.48, "serie": "A"}, {"cycles": 12300, "energie": 3.51, "serie": "A"}, {"cycles": 12800, "energie": 3.54, "serie": "A"}, {"cycles": 13300, "energie": 3.57, "serie": "A"}, {"cycles": 13800, "energie": 3.59, "serie": "A"}, {"cycles": 14300, "energie": 3.61, "serie": "A"}, {"cycles": 14800, "energie": 3.63, "serie": "A"}, {"cycles": 15300, "energie": 3.65, "serie": "A"}, {"cycles": 15800, "energie": 3.64, "serie": "A"}, {"cycles": 16300, "energie": 3.62, "serie": "A"}, {"cycles": 16800, "energie": 3.63, "serie": "A"}, {"cycles": 17300, "energie": 3.64, "serie": "A"}, {"cycles": 17800, "energie": 3.63, "serie": "A"}, {"cycles": 18300, "energie": 3.64, "serie": "A"}, {"cycles": 18800, "energie": 3.66, "serie": "A"}, {"cycles": 19300, "energie": 3.67, "serie": "A"}, {"cycles": 19800, "energie": 3.68, "serie": "A"}, {"cycles": 20300, "energie": 3.70, "serie": "A"}, {"cycles": 20800, "energie": 3.69, "serie": "A"}, {"cycles": 21300, "energie": 3.67, "serie": "A"}, {"cycles": 21800, "energie": 3.66, "serie": "A"}, {"cycles": 22300, "energie": 3.62, "serie": "A"}, {"cycles": 22800, "energie": 3.62, "serie": "A"}, {"cycles": 23300, "energie": 3.63, "serie": "A"}, {"cycles": 23800, "energie": 3.61, "serie": "A"}, {"cycles": 24300, "energie": 3.60, "serie": "A"}, {"cycles": 24800, "energie": 3.55, "serie": "A"}, {"cycles": 25300, "energie": 3.50, "serie": "A"}, {"cycles": 25800, "energie": 3.44, "serie": "A"}, {"cycles": 26300, "energie": 3.39, "serie": "A"}, {"cycles": 26800, "energie": 3.36, "serie": "A"}, {"cycles": 27300, "energie": 3.35, "serie": "A"}, {"cycles": 27800, "energie": 3.37, "serie": "A"}, {"cycles": 28300, "energie": 3.40, "serie": "A"}, {"cycles": 28800, "energie": 3.42, "serie": "A"}, {"cycles": 29300, "energie": 3.44, "serie": "A"}, {"cycles": 29800, "energie": 3.47, "serie": "A"}, {"cycles": 30300, "energie": 3.50, "serie": "A"}, {"cycles": 30800, "energie": 3.52, "serie": "A"}, {"cycles": 31300, "energie": 3.54, "serie": "A"}, {"cycles": 31800, "energie": 3.55, "serie": "A"}, {"cycles": 32300, "energie": 3.56, "serie": "A"}, {"cycles": 32800, "energie": 3.54, "serie": "A"}, {"cycles": 33300, "energie": 3.55, "serie": "A"}, {"cycles": 33800, "energie": 3.54, "serie": "A"}, {"cycles": 34300, "energie": 3.52, "serie": "A"}, {"cycles": 34800, "energie": 3.50, "serie": "A"}, {"cycles": 35300, "energie": 3.47, "serie": "A"}, {"cycles": 35800, "energie": 3.45, "serie": "A"}, {"cycles": 36300, "energie": 3.42, "serie": "A"}, {"cycles": 36800, "energie": 3.40, "serie": "A"}, {"cycles": 37300, "energie": 3.38, "serie": "A"}, {"cycles": 38000, "energie": 3.37, "serie": "A"}, {"cycles": 39000, "energie": 3.39, "serie": "A"}, {"cycles": 40000, "energie": 3.38, "serie": "A"}, {"cycles": 41000, "energie": 3.41, "serie": "A"}, {"cycles": 42000, "energie": 3.40, "serie": "A"}, {"cycles": 43000, "energie": 3.42, "serie": "A"}, {"cycles": 44000, "energie": 3.40, "serie": "A"}, {"cycles": 45000, "energie": 3.41, "serie": "A"}, {"cycles": 46000, "energie": 3.42, "serie": "A"}, {"cycles": 47000, "energie": 3.44, "serie": "A"}, {"cycles": 48000, "energie": 3.42, "serie": "A"}, {"cycles": 49000, "energie": 3.40, "serie": "A"}, {"cycles": 50000, "energie": 3.37, "serie": "A"}, {"cycles": 51000, "energie": 3.33, "serie": "A"}, {"cycles": 52000, "energie": 3.30, "serie": "A"}, {"cycles": 53000, "energie": 3.35, "serie": "A"}, {"cycles": 54000, "energie": 3.38, "serie": "A"}, {"cycles": 55000, "energie": 3.40, "serie": "A"}, {"cycles": 56000, "energie": 3.42, "serie": "A"}, {"cycles": 57000, "energie": 3.41, "serie": "A"}, {"cycles": 58000, "energie": 3.43, "serie": "A"}, {"cycles": 59000, "energie": 3.41, "serie": "A"}, {"cycles": 60000, "energie": 3.40, "serie": "A"}, {"cycles": 61000, "energie": 3.42, "serie": "A"}, {"cycles": 62000, "energie": 3.39, "serie": "A"}, {"cycles": 63000, "energie": 3.41, "serie": "A"}, {"cycles": 64000, "energie": 3.40, "serie": "A"}, {"cycles": 65000, "energie": 3.43, "serie": "A"}, {"cycles": 66000, "energie": 3.40, "serie": "A"}, {"cycles": 67000, "energie": 3.38, "serie": "A"}, {"cycles": 68000, "energie": 3.40, "serie": "A"}, {"cycles": 69000, "energie": 3.36, "serie": "A"}, {"cycles": 70000, "energie": 3.33, "serie": "A"}, {"cycles": 71000, "energie": 3.35, "serie": "A"}, {"cycles": 72000, "energie": 3.33, "serie": "A"}, {"cycles": 73000, "energie": 3.35, "serie": "A"}, {"cycles": 74000, "energie": 3.30, "serie": "A"}, {"cycles": 75000, "energie": 3.27, "serie": "A"}, {"cycles": 76000, "energie": 3.32, "serie": "A"}, {"cycles": 77000, "energie": 3.37, "serie": "A"}, {"cycles": 78000, "energie": 3.41, "serie": "A"}, {"cycles": 79000, "energie": 3.39, "serie": "A"}, {"cycles": 79800, "energie": 3.37, "serie": "A"},
      {"cycles": 0, "energie": 3.70, "serie": "B"}, {"cycles": 300, "energie": 3.92, "serie": "B"}, {"cycles": 900, "energie": 3.91, "serie": "B"}, {"cycles": 1400, "energie": 3.80, "serie": "B"}, {"cycles": 1800, "energie": 3.76, "serie": "B"}, {"cycles": 2300, "energie": 3.62, "serie": "B"}, {"cycles": 2800, "energie": 3.48, "serie": "B"}, {"cycles": 3300, "energie": 3.40, "serie": "B"}, {"cycles": 3800, "energie": 3.30, "serie": "B"}, {"cycles": 4200, "energie": 3.24, "serie": "B"}, {"cycles": 4600, "energie": 3.18, "serie": "B"}, {"cycles": 5000, "energie": 3.14, "serie": "B"}, {"cycles": 5400, "energie": 3.10, "serie": "B"}, {"cycles": 5800, "energie": 3.06, "serie": "B"}, {"cycles": 6200, "energie": 3.03, "serie": "B"}, {"cycles": 6600, "energie": 3.02, "serie": "B"}, {"cycles": 7000, "energie": 3.02, "serie": "B"}, {"cycles": 7400, "energie": 3.03, "serie": "B"}, {"cycles": 7800, "energie": 3.05, "serie": "B"}, {"cycles": 8200, "energie": 3.08, "serie": "B"}, {"cycles": 8600, "energie": 3.11, "serie": "B"}, {"cycles": 9000, "energie": 3.14, "serie": "B"}, {"cycles": 9400, "energie": 3.17, "serie": "B"}, {"cycles": 9800, "energie": 3.20, "serie": "B"}, {"cycles": 10200, "energie": 3.22, "serie": "B"}, {"cycles": 10600, "energie": 3.24, "serie": "B"}, {"cycles": 11000, "energie": 3.26, "serie": "B"}, {"cycles": 11500, "energie": 3.28, "serie": "B"}, {"cycles": 12000, "energie": 3.31, "serie": "B"}, {"cycles": 12500, "energie": 3.34, "serie": "B"}, {"cycles": 13000, "energie": 3.37, "serie": "B"}, {"cycles": 13500, "energie": 3.40, "serie": "B"}, {"cycles": 14000, "energie": 3.43, "serie": "B"}, {"cycles": 14500, "energie": 3.46, "serie": "B"}, {"cycles": 15000, "energie": 3.48, "serie": "B"}, {"cycles": 15500, "energie": 3.50, "serie": "B"}, {"cycles": 16000, "energie": 3.51, "serie": "B"}, {"cycles": 16500, "energie": 3.52, "serie": "B"}, {"cycles": 17000, "energie": 3.52, "serie": "B"}, {"cycles": 17500, "energie": 3.51, "serie": "B"}, {"cycles": 18000, "energie": 3.51, "serie": "B"}, {"cycles": 18500, "energie": 3.49, "serie": "B"}, {"cycles": 19000, "energie": 3.47, "serie": "B"}, {"cycles": 19500, "energie": 3.45, "serie": "B"}, {"cycles": 20000, "energie": 3.42, "serie": "B"}, {"cycles": 20500, "energie": 3.40, "serie": "B"}, {"cycles": 21000, "energie": 3.40, "serie": "B"}, {"cycles": 21500, "energie": 3.41, "serie": "B"}, {"cycles": 22000, "energie": 3.43, "serie": "B"}, {"cycles": 22500, "energie": 3.45, "serie": "B"}, {"cycles": 23000, "energie": 3.46, "serie": "B"}, {"cycles": 23500, "energie": 3.47, "serie": "B"}, {"cycles": 24000, "energie": 3.48, "serie": "B"}, {"cycles": 24500, "energie": 3.49, "serie": "B"}, {"cycles": 25000, "energie": 3.49, "serie": "B"}, {"cycles": 25500, "energie": 3.50, "serie": "B"}, {"cycles": 26000, "energie": 3.50, "serie": "B"}, {"cycles": 26500, "energie": 3.50, "serie": "B"}, {"cycles": 27000, "energie": 3.50, "serie": "B"}, {"cycles": 27500, "energie": 3.50, "serie": "B"}, {"cycles": 28000, "energie": 3.49, "serie": "B"}, {"cycles": 28500, "energie": 3.48, "serie": "B"}, {"cycles": 29000, "energie": 3.47, "serie": "B"}, {"cycles": 29500, "energie": 3.46, "serie": "B"}, {"cycles": 30000, "energie": 3.46, "serie": "B"}, {"cycles": 30500, "energie": 3.45, "serie": "B"}, {"cycles": 31000, "energie": 3.45, "serie": "B"}, {"cycles": 31500, "energie": 3.44, "serie": "B"}, {"cycles": 32000, "energie": 3.43, "serie": "B"}, {"cycles": 32500, "energie": 3.41, "serie": "B"}, {"cycles": 33000, "energie": 3.40, "serie": "B"}, {"cycles": 33500, "energie": 3.39, "serie": "B"}, {"cycles": 34000, "energie": 3.37, "serie": "B"}, {"cycles": 34500, "energie": 3.36, "serie": "B"}, {"cycles": 35000, "energie": 3.35, "serie": "B"}, {"cycles": 35500, "energie": 3.33, "serie": "B"}, {"cycles": 36000, "energie": 3.31, "serie": "B"}, {"cycles": 36500, "energie": 3.29, "serie": "B"}, {"cycles": 37000, "energie": 3.27, "serie": "B"}, {"cycles": 37500, "energie": 3.25, "serie": "B"}, {"cycles": 38000, "energie": 3.24, "serie": "B"}, {"cycles": 38500, "energie": 3.23, "serie": "B"}, {"cycles": 39000, "energie": 3.22, "serie": "B"}, {"cycles": 39500, "energie": 3.21, "serie": "B"}, {"cycles": 40000, "energie": 3.21, "serie": "B"},
      {"cycles": 0, "energie": 3.78, "serie": "C"}, {"cycles": 300, "energie": 3.86, "serie": "C"}, {"cycles": 700, "energie": 3.89, "serie": "C"}, {"cycles": 1100, "energie": 3.65, "serie": "C"}, {"cycles": 1500, "energie": 3.50, "serie": "C"}, {"cycles": 1800, "energie": 3.35, "serie": "C"}, {"cycles": 2200, "energie": 3.22, "serie": "C"}, {"cycles": 2600, "energie": 3.15, "serie": "C"}, {"cycles": 3100, "energie": 3.03, "serie": "C"},
      {"cycles": 0, "energie": 3.02, "serie": "D"}, {"cycles": 300, "energie": 3.63, "serie": "D"}, {"cycles": 800, "energie": 3.51, "serie": "D"}, {"cycles": 1300, "energie": 3.32, "serie": "D"}, {"cycles": 1800, "energie": 3.22, "serie": "D"}, {"cycles": 2300, "energie": 3.14, "serie": "D"}, {"cycles": 2800, "energie": 3.10, "serie": "D"}, {"cycles": 3200, "energie": 3.07, "serie": "D"}, {"cycles": 8000, "energie": 3.04, "serie": "D"}, {"cycles": 8500, "energie": 3.02, "serie": "D"}, {"cycles": 9000, "energie": 3.06, "serie": "D"}, {"cycles": 9500, "energie": 3.03, "serie": "D"}, {"cycles": 10000, "energie": 3.05, "serie": "D"}, {"cycles": 10500, "energie": 3.01, "serie": "D"}, {"cycles": 11000, "energie": 3.04, "serie": "D"}, {"cycles": 11500, "energie": 3.03, "serie": "D"}, {"cycles": 12000, "energie": 3.08, "serie": "D"}, {"cycles": 12500, "energie": 3.10, "serie": "D"}, {"cycles": 13000, "energie": 3.13, "serie": "D"}, {"cycles": 13500, "energie": 3.15, "serie": "D"}, {"cycles": 14000, "energie": 3.18, "serie": "D"}, {"cycles": 14500, "energie": 3.21, "serie": "D"}, {"cycles": 15000, "energie": 3.23, "serie": "D"}, {"cycles": 15500, "energie": 3.25, "serie": "D"}, {"cycles": 16000, "energie": 3.27, "serie": "D"}, {"cycles": 16500, "energie": 3.28, "serie": "D"}, {"cycles": 17000, "energie": 3.30, "serie": "D"}, {"cycles": 17500, "energie": 3.30, "serie": "D"}, {"cycles": 18000, "energie": 3.31, "serie": "D"}, {"cycles": 18500, "energie": 3.30, "serie": "D"}, {"cycles": 19000, "energie": 3.29, "serie": "D"}, {"cycles": 19500, "energie": 3.28, "serie": "D"}, {"cycles": 20000, "energie": 3.27, "serie": "D"}
    ]
  },
  "vconcat": [
    {
      "spacing": 40,
      "hconcat": [
        {
          "width": 492, "height": 304,
          "layer": [
            {
              "data": {"name": "p1"},
              "mark": {"type": "point", "filled": true, "opacity": 1},
              "encoding": {
                "x": {"field": "cycles", "type": "quantitative", "title": "Nombre de cycles", "scale": {"domain": [0, 80000], "nice": false}, "axis": {"values": [0, 20000, 40000, 60000, 80000], "format": "d"}},
                "y": {"field": "energie", "type": "quantitative", "title": "Energie dissipée (mJ/cycle)", "scale": {"domain": [3, 5.5], "nice": false, "zero": false, "range": [304, 14]}, "axis": {"values": [3, 3.5, 4, 4.5, 5, 5.5], "labelExpr": "replace(format(datum.value, '.1f'), '.', ',')"}},
                "color": {"field": "serie", "type": "nominal", "legend": null, "scale": {"domain": ["A", "B", "C", "D", "E", "F", "G"], "range": ["#000080", "#FF00FF", "#FF0000", "#00FFFF", "#800080", "#800080", "#00FFFF"]}},
                "stroke": {"field": "serie", "type": "nominal", "legend": null, "scale": {"domain": ["A", "B", "C", "D", "E", "F", "G"], "range": ["#000080", "#FF00FF", "#FF0000", "#00FFFF", "#800080", "#800080", "#00FFFF"]}},
                "shape": {"field": "serie", "type": "nominal", "legend": null, "scale": {"domain": ["A", "B", "C", "D", "E", "F", "G"], "range": ["diamond", "square", "triangle-up", "M-1,-1L1,1M-1,1L1,-1", "M-1,-1L1,1M-1,1L1,-1M0,-1.3L0,1.3", "diamond", "square"]}},
                "size": {"field": "serie", "type": "nominal", "legend": null, "scale": {"domain": ["A", "B", "C", "D", "E", "F", "G"], "range": [200, 160, 200, 190, 180, 200, 160]}},
                "strokeWidth": {"field": "serie", "type": "nominal", "legend": null, "scale": {"domain": ["A", "B", "C", "D", "E", "F", "G"], "range": [1, 1, 1, 2.5, 2.2, 1, 1]}}
              }
            },
            {
              "data": {"values": [{"cycles": 41300, "energie": 4.59, "label": "-1000 mV/ECS"}]},
              "mark": {"type": "text"},
              "encoding": {
                "x": {"field": "cycles", "type": "quantitative", "title": "Nombre de cycles"},
                "y": {"field": "energie", "type": "quantitative", "title": "Energie dissipée (mJ/cycle)"},
                "text": {"field": "label"}
              }
            }
          ]
        },
        {
          "width": 458, "height": 319,
          "layer": [
            {
              "data": {"name": "p2"},
              "mark": {"type": "point", "filled": true, "opacity": 1},
              "encoding": {
                "x": {"field": "cycles", "type": "quantitative", "title": "Nombre de cycles", "scale": {"domain": [0, 80000], "nice": false}, "axis": {"values": [0, 20000, 40000, 60000, 80000], "format": "d"}},
                "y": {"field": "energie", "type": "quantitative", "title": "Energie dissipée (mJ/cycle)", "scale": {"domain": [3, 5.5], "nice": false, "zero": false}, "axis": {"values": [3, 3.5, 4, 4.5, 5, 5.5], "labelExpr": "replace(format(datum.value, '.1f'), '.', ',')", "titlePadding": 27}},
                "color": {"field": "serie", "type": "nominal", "legend": null, "scale": {"domain": ["A", "B", "C", "D", "E", "F", "G"], "range": ["#000080", "#FF00FF", "#FF0000", "#00FFFF", "#800080", "#800080", "#00FFFF"]}},
                "stroke": {"field": "serie", "type": "nominal", "legend": null, "scale": {"domain": ["A", "B", "C", "D", "E", "F", "G"], "range": ["#000080", "#FF00FF", "#FF0000", "#00FFFF", "#800080", "#800080", "#00FFFF"]}},
                "shape": {"field": "serie", "type": "nominal", "legend": null, "scale": {"domain": ["A", "B", "C", "D", "E", "F", "G"], "range": ["diamond", "square", "triangle-up", "M-1,-1L1,1M-1,1L1,-1", "M-1,-1L1,1M-1,1L1,-1M0,-1.3L0,1.3", "diamond", "square"]}},
                "size": {"field": "serie", "type": "nominal", "legend": null, "scale": {"domain": ["A", "B", "C", "D", "E", "F", "G"], "range": [200, 160, 200, 190, 180, 200, 160]}},
                "strokeWidth": {"field": "serie", "type": "nominal", "legend": null, "scale": {"domain": ["A", "B", "C", "D", "E", "F", "G"], "range": [1, 1, 1, 2.5, 2.2, 1, 1]}}
              }
            },
            {
              "data": {"values": [{"cycles": 47400, "energie": 4.20, "label": "-600 mV/ECS"}]},
              "mark": {"type": "text"},
              "encoding": {
                "x": {"field": "cycles", "type": "quantitative", "title": "Nombre de cycles"},
                "y": {"field": "energie", "type": "quantitative", "title": "Energie dissipée (mJ/cycle)"},
                "text": {"field": "label"}
              }
            }
          ]
        }
      ]
    },
    {
      "spacing": 60,
      "hconcat": [
        {
          "width": 453, "height": 308,
          "layer": [
            {
              "data": {"name": "p3"},
              "mark": {"type": "point", "filled": true, "opacity": 1},
              "encoding": {
                "x": {"field": "cycles", "type": "quantitative", "title": "Nombre de cycles", "scale": {"domain": [0, 80000], "nice": false, "range": [7, 453]}, "axis": {"values": [0, 20000, 40000, 60000, 80000], "format": "d"}},
                "y": {"field": "energie", "type": "quantitative", "title": "Energie dissipée (mJ/cycle)", "scale": {"domain": [3, 5.5], "nice": false, "zero": false, "range": [308, 4]}, "axis": {"values": [3, 3.5, 4, 4.5, 5, 5.5], "labelExpr": "replace(format(datum.value, '.1f'), '.', ',')", "offset": -7, "titlePadding": 26}},
                "color": {"field": "serie", "type": "nominal", "legend": null, "scale": {"domain": ["A", "B", "C", "D", "E", "F", "G"], "range": ["#000080", "#FF00FF", "#FF0000", "#00FFFF", "#800080", "#800080", "#00FFFF"]}},
                "stroke": {"field": "serie", "type": "nominal", "legend": null, "scale": {"domain": ["A", "B", "C", "D", "E", "F", "G"], "range": ["#000080", "#FF00FF", "#FF0000", "#00FFFF", "#800080", "#800080", "#00FFFF"]}},
                "shape": {"field": "serie", "type": "nominal", "legend": null, "scale": {"domain": ["A", "B", "C", "D", "E", "F", "G"], "range": ["diamond", "square", "triangle-up", "M-1,-1L1,1M-1,1L1,-1", "M-1,-1L1,1M-1,1L1,-1M0,-1.3L0,1.3", "diamond", "square"]}},
                "size": {"field": "serie", "type": "nominal", "legend": null, "scale": {"domain": ["A", "B", "C", "D", "E", "F", "G"], "range": [200, 160, 200, 190, 180, 200, 160]}},
                "strokeWidth": {"field": "serie", "type": "nominal", "legend": null, "scale": {"domain": ["A", "B", "C", "D", "E", "F", "G"], "range": [1, 1, 1, 2.5, 2.2, 1, 1]}}
              }
            },
            {
              "data": {"values": [{"cycles": 43900, "energie": 5.28, "label": "-400 mV/ECS"}]},
              "mark": {"type": "text"},
              "encoding": {
                "x": {"field": "cycles", "type": "quantitative", "title": "Nombre de cycles"},
                "y": {"field": "energie", "type": "quantitative", "title": "Energie dissipée (mJ/cycle)"},
                "text": {"field": "label"}
              }
            }
          ]
        },
        {
          "width": 452, "height": 295,
          "layer": [
            {
              "data": {"name": "p4"},
              "mark": {"type": "point", "filled": true, "opacity": 1},
              "encoding": {
                "x": {"field": "cycles", "type": "quantitative", "title": "Nombre de cycles", "scale": {"domain": [0, 80000], "nice": false}, "axis": {"values": [0, 20000, 40000, 60000, 80000], "format": "d", "titlePadding": 6}},
                "y": {"field": "energie", "type": "quantitative", "title": "Energie dissipée (mJ/cycle)", "scale": {"domain": [3, 5.5], "nice": false, "zero": false}, "axis": {"values": [3, 3.5, 4, 4.5, 5, 5.5], "labelExpr": "replace(format(datum.value, '.1f'), '.', ',')", "titlePadding": 10}},
                "color": {"field": "serie", "type": "nominal", "legend": null, "scale": {"domain": ["A", "B", "C", "D", "E", "F", "G"], "range": ["#000080", "#FF00FF", "#FF0000", "#00FFFF", "#800080", "#800080", "#00FFFF"]}},
                "stroke": {"field": "serie", "type": "nominal", "legend": null, "scale": {"domain": ["A", "B", "C", "D", "E", "F", "G"], "range": ["#000080", "#FF00FF", "#FF0000", "#00FFFF", "#800080", "#800080", "#00FFFF"]}},
                "shape": {"field": "serie", "type": "nominal", "legend": null, "scale": {"domain": ["A", "B", "C", "D", "E", "F", "G"], "range": ["diamond", "square", "triangle-up", "M-1,-1L1,1M-1,1L1,-1", "M-1,-1L1,1M-1,1L1,-1M0,-1.3L0,1.3", "diamond", "square"]}},
                "size": {"field": "serie", "type": "nominal", "legend": null, "scale": {"domain": ["A", "B", "C", "D", "E", "F", "G"], "range": [200, 160, 200, 190, 180, 200, 160]}},
                "strokeWidth": {"field": "serie", "type": "nominal", "legend": null, "scale": {"domain": ["A", "B", "C", "D", "E", "F", "G"], "range": [1, 1, 1, 2.5, 2.2, 1, 1]}}
              }
            },
            {
              "data": {"values": [{"cycles": 50500, "energie": 5.25, "label": "0 mV/ECS"}]},
              "mark": {"type": "text"},
              "encoding": {
                "x": {"field": "cycles", "type": "quantitative", "title": "Nombre de cycles"},
                "y": {"field": "energie", "type": "quantitative", "title": "Energie dissipée (mJ/cycle)"},
                "text": {"field": "label"}
              }
            }
          ]
        }
      ]
    }
  ],
  "spacing": 152
}
